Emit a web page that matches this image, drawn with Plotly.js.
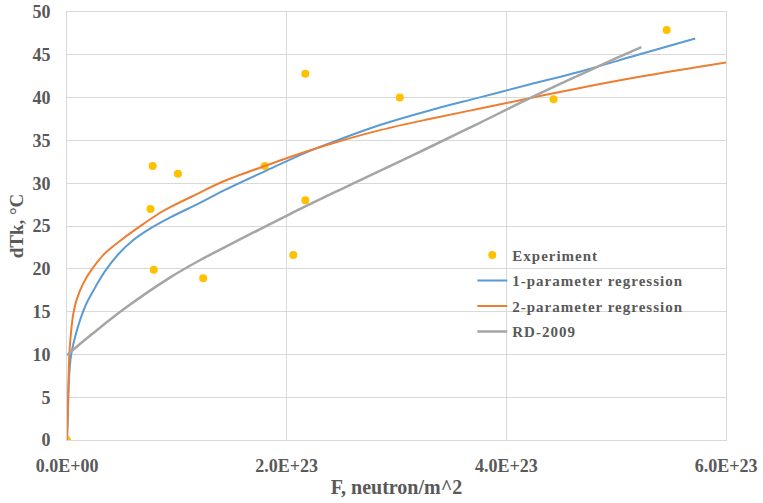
<!DOCTYPE html>
<html>
<head>
<meta charset="utf-8">
<script src="https://cdn.plot.ly/plotly-3.0.1.min.js"></script>
<style>
html,body{margin:0;padding:0;background:#fff;}
#chart{width:763px;height:503px;}
.legendtext{letter-spacing:1px;}
</style>
</head>
<body>
<div id="chart"></div>
<script>
// Experiment points
var expF = [0, 0.78e23, 1.01e23, 0.76e23, 0.79e23, 1.24e23, 1.80e23, 2.17e23, 2.17e23, 2.06e23, 3.03e23, 4.43e23, 5.46e23];
var expT = [0, 32.0, 31.1, 27.0, 19.9, 18.9, 32.0, 42.8, 28.0, 21.6, 40.0, 39.8, 47.9];

// 1-parameter regression
var oneF = [0, 0.008e23, 0.014e23, 0.024e23, 0.036e23, 0.073e23, 0.124e23, 0.179e23, 0.264e23, 0.345e23, 0.467e23, 0.588e23, 0.77e23, 0.94e23, 1.21e23, 1.42e23, 1.82e23, 2.18e23, 2.48e23, 2.85e23, 3.3e23, 3.75e23, 4.2e23, 4.66e23, 5.2e23, 5.72e23];
var oneT = [0, 3.0, 6.0, 8.3, 9.8, 12.0, 14.2, 16.0, 18.0, 19.7, 21.7, 23.2, 24.8, 26.0, 27.7, 29.1, 31.5, 33.6, 35.1, 36.8, 38.5, 40.0, 41.5, 43.0, 45.0, 46.9];

// 2-parameter regression
var twoF = [0, 0.008e23, 0.014e23, 0.021e23, 0.036e23, 0.058e23, 0.088e23, 0.148e23, 0.224e23, 0.345e23, 0.497e23, 0.68e23, 0.83e23, 0.94e23, 1.21e23, 1.42e23, 1.82e23, 2.18e23, 2.48e23, 2.85e23, 3.3e23, 3.75e23, 4.2e23, 4.66e23, 5.2e23, 6.0e23];
var twoT = [0, 3.5, 7.0, 9.9, 12.5, 14.8, 16.4, 18.3, 19.9, 21.8, 23.4, 25.1, 26.4, 27.2, 28.9, 30.2, 32.1, 33.7, 34.9, 36.2, 37.5, 38.7, 39.9, 41.1, 42.4, 44.1];

// RD-2009
var rdF = [0, 0.043e23, 0.24e23, 0.54e23, 0.94e23, 1.21e23, 1.57e23, 2.03e23, 2.48e23, 2.94e23, 3.3e23, 3.75e23, 4.21e23, 4.66e23, 5.0e23, 5.23e23];
var rdT = [9.9, 10.4, 12.5, 15.5, 19.0, 21.0, 23.4, 26.4, 29.2, 32.0, 34.2, 37.0, 39.9, 42.6, 44.6, 45.9];

// Axis ticks
var xTickVals = [0, 2e23, 4e23, 6e23];
var xTickText = ["0.0E+00", "2.0E+23", "4.0E+23", "6.0E+23"];
var yTickVals = [0, 5, 10, 15, 20, 25, 30, 35, 40, 45, 50];

var serif = "Liberation Serif, Times New Roman, serif";
var txtCol = "#595959";
var gridCol = "#d9d9d9";

var traces = [
  {x: expF, y: expT, mode: "markers", type: "scatter", name: "Experiment", legendgroup: "a",
   marker: {color: "#FFC000", size: 8}},
  {x: oneF, y: oneT, mode: "lines", type: "scatter", name: "1-parameter regression", legendgroup: "b",
   line: {color: "#5B9BD5", width: 2, shape: "spline", smoothing: 1}},
  {x: twoF, y: twoT, mode: "lines", type: "scatter", name: "2-parameter regression", legendgroup: "c",
   line: {color: "#ED7D31", width: 2, shape: "spline", smoothing: 1}},
  {x: rdF, y: rdT, mode: "lines", type: "scatter", name: "RD-2009", legendgroup: "d",
   line: {color: "#A5A5A5", width: 2.5, shape: "spline", smoothing: 1}}
];

var layout = {
  width: 763, height: 503,
  margin: {l: 67, r: 37, t: 12, b: 63},
  paper_bgcolor: "#fff", plot_bgcolor: "#fff",
  showlegend: true,
  legend: {x: 0.615, y: 0.47, xanchor: "left", yanchor: "top", bgcolor: "rgba(0,0,0,0)",
    tracegroupgap: 3, traceorder: "grouped",
    font: {family: serif, size: 15, color: txtCol, weight: "bold"}},
  xaxis: {
    range: [0, 6e23], tickvals: xTickVals, ticktext: xTickText,
    showgrid: true, gridcolor: gridCol, gridwidth: 1, zeroline: false,
    showline: true, linecolor: gridCol, mirror: true, ticks: "",
    ticklabelstandoff: 9,
    tickfont: {family: serif, size: 18, color: txtCol, weight: "bold"},
    title: {text: "F, neutron/m^2", font: {family: serif, size: 20, color: txtCol, weight: "bold"}, standoff: 5}
  },
  yaxis: {
    range: [0, 50], tickvals: yTickVals,
    showgrid: true, gridcolor: gridCol, gridwidth: 1, zeroline: false,
    showline: true, linecolor: gridCol, mirror: true, ticks: "",
    ticklabelstandoff: 12,
    tickfont: {family: serif, size: 18, color: txtCol, weight: "bold"},
    title: {text: "dTk, °C", font: {family: serif, size: 19, color: txtCol, weight: "bold"}, standoff: 3}
  }
};

Plotly.newPlot("chart", traces, layout, {displayModeBar: false, staticPlot: true});
</script>
</body>
</html>
